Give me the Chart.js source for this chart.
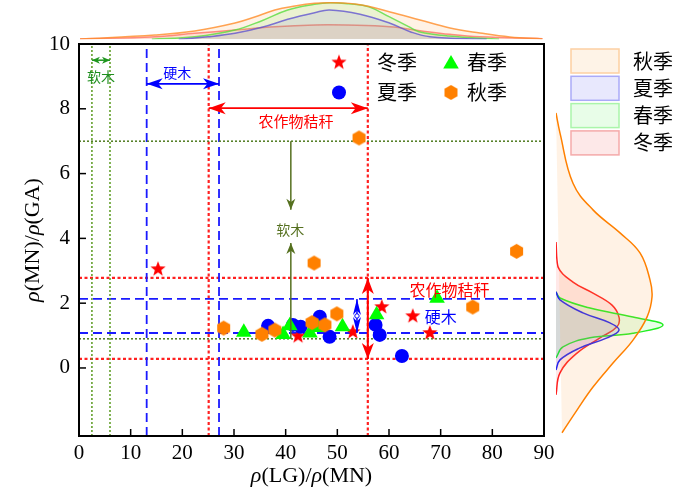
<!DOCTYPE html>
<html>
<head>
<meta charset="utf-8">
<script src="https://cdn.jsdelivr.net/npm/chart.js@4.4.0/dist/chart.umd.min.js"></script>
<style>
html, body { margin: 0; padding: 0; background: #fff; }
#wrap { position: relative; width: 700px; height: 490px; }
canvas { position: absolute; left: 0; top: 0; }
</style>
</head>
<body>
<div id="wrap">
  <canvas id="main" width="700" height="490"></canvas>
  <canvas id="top" width="700" height="490"></canvas>
  <canvas id="side" width="700" height="490"></canvas>
</div>
<script>
// ---- data ----
const seasons = ['冬季', '夏季', '春季', '秋季']

const winterX = [15.3, 42.4, 53.0, 58.6, 64.6, 67.9]
const winterY = [3.05, 0.98, 1.11, 1.88, 1.60, 1.08]
const summerX = [36.6, 41.4, 42.9, 46.6, 48.5, 57.4, 58.2, 62.5]
const summerY = [1.30, 1.33, 1.27, 1.58, 0.96, 1.33, 1.02, 0.37]
const springX = [31.9, 39.5, 40.8, 44.7, 46.2, 51.0, 57.6, 69.3]
const springY = [1.10, 1.03, 1.30, 1.08, 1.25, 1.27, 1.64, 2.15]
const autumnX = [28.0, 35.4, 37.9, 45.1, 45.5, 47.6, 49.9, 54.2, 76.2, 84.7]
const autumnY = [1.23, 1.04, 1.17, 1.40, 3.24, 1.33, 1.67, 7.10, 1.88, 3.60]

// ranges of the three source types
const softwoodX = [2.5, 6.0]
const hardwoodX = [13.1, 27.1]
const strawX = [25.1, 55.9]
const softwoodY = [0.9, 7.0]
const hardwoodY = [1.08, 2.13]
const strawY = [0.28, 2.78]

const xTicks = [0, 10, 20, 30, 40, 50, 60, 70, 80, 90]
const yTicks = [0, 2, 4, 6, 8, 10]

// density curves on top (x value, density a.u.)
const topAutumnX = [0.2, 14.7, 22.4, 30.2, 34.0, 37.9, 41.8, 45.6, 48.5, 54.4, 60.2, 66.0, 71.8, 77.6, 83.4, 89.7]
const topAutumnD = [0.3, 4.3, 8.3, 16.3, 22.3, 29.3, 33.3, 36.0, 36.6, 34.6, 27.3, 19.3, 11.3, 6.3, 2.3, 0.3]
const topSummerX = [19.3, 25.0, 30.2, 35.4, 40.4, 45.6, 48.5, 54.4, 60.2, 64.1, 67.9, 78.9]
const topSummerD = [0, 2.5, 6.0, 12.0, 20.0, 26.6, 29.3, 25.0, 16.0, 7.6, 2.6, 0]
const topSpringX = [14.1, 22.4, 30.2, 35.4, 40.4, 45.6, 48.5, 52.2, 56.1, 60.0, 63.8, 65.8, 71.6, 81.3]
const topSpringD = [0, 2.5, 9.3, 18.6, 29.3, 35.0, 36.6, 35.5, 32.6, 22.6, 12.6, 7.6, 3.3, 0]
const topWinterX = [0.2, 14.7, 22.4, 30.2, 37.9, 45.6, 52.0, 60.2, 66.0, 71.8, 77.6, 89.7]
const topWinterD = [0.3, 2.6, 6.0, 9.3, 12.6, 14.3, 14.2, 12.6, 8.6, 5.0, 2.6, 0.6]

// density curves on the right (y value, density a.u.)
const sideAutumnY = [7.87, 7.25, 5.7, 4.88, 4.17, 3.55, 2.72, 2.19, 1.57, 0.86, 0.15, -0.59, -1.3, -2.0]
const sideAutumnD = [0, 4, 17, 37, 64, 84, 94, 96, 91, 77, 57, 37, 21, 6]
const sideSummerY = [2.35, 2.10, 1.70, 1.39, 1.17, 0.93, 0.62, 0.25, -0.06]
const sideSummerD = [0, 4, 27, 54, 63, 51, 24, 4, 0]
const sideSpringY = [2.35, 2.16, 1.85, 1.57, 1.33, 1.07, 0.93, 0.65, 0.31]
const sideSpringD = [0, 4, 34, 77, 107, 77, 34, 7, 0]
const sideWinterY = [3.89, 3.12, 2.65, 2.31, 1.94, 1.57, 1.27, 0.93, 0.46, -0.15, -0.83]
const sideWinterD = [0, 2, 17, 37, 56, 63, 61, 44, 21, 4, 0]

// ---- helpers ----
const CJK = '"Noto Sans CJK SC"'
const SERIF = '"Liberation Serif"'
const Y_MIN = -2.1, Y_MAX = 10

let zip = (a, b) => a.map((v, i) => ({x: v, y: b[i]}))

let makeMarker = function(kind, color, r) {
	const c = document.createElement('canvas')
	const s = Math.ceil(r * 2 + 2)
	c.width = s; c.height = s
	const g = c.getContext('2d')
	g.fillStyle = color
	g.beginPath()
	const n = kind === 'star' ? 10 : 6
	for (let i = 0; i < n; i++) {
		const a = -Math.PI / 2 + i * 2 * Math.PI / n
		const rr = kind === 'star' ? (i % 2 ? r * 0.42 : r) : r
		g.lineTo(s / 2 + rr * Math.cos(a), s / 2 + rr * Math.sin(a))
	}
	g.closePath()
	g.fill()
	return c
}

const starImg = makeMarker('star', '#ff0000', 8)
const hexImg = makeMarker('hex', '#ff8000', 7.5)

let refLine = function(pts, color, dash, w) {
	return {
		data: pts, showLine: true, borderColor: color, borderDash: dash,
		borderWidth: w, pointRadius: 0, fill: false, order: 10
	}
}

let head = function(ctx, tx, ty, ang, len, w) {
	const c = Math.cos(ang), s = Math.sin(ang)
	const bx = tx - len * c, by = ty - len * s
	const nx = tx - len * 0.72 * c, ny = ty - len * 0.72 * s
	ctx.beginPath()
	ctx.moveTo(tx, ty)
	ctx.lineTo(bx - s * w / 2, by + c * w / 2)
	ctx.lineTo(nx, ny)
	ctx.lineTo(bx + s * w / 2, by - c * w / 2)
	ctx.closePath()
	ctx.fill()
}

let arrow = function(ctx, x1, y1, x2, y2, color, lw, len, w, both) {
	ctx.strokeStyle = color
	ctx.fillStyle = color
	ctx.lineWidth = lw
	ctx.setLineDash([])
	ctx.beginPath(); ctx.moveTo(x1, y1); ctx.lineTo(x2, y2); ctx.stroke()
	const ang = Math.atan2(y2 - y1, x2 - x1)
	head(ctx, x2, y2, ang, len, w)
	if (both) head(ctx, x1, y1, ang + Math.PI, len, w)
}

let label = function(ctx, text, x, y, color, size) {
	ctx.fillStyle = color
	ctx.font = size + 'px ' + CJK
	ctx.textAlign = 'center'
	ctx.textBaseline = 'middle'
	ctx.fillText(text, x, y)
}

let rich = function(ctx, parts, cx, cy, size) {
	let w = 0
	parts.forEach(p => { ctx.font = (p[1] ? 'italic ' : '') + size + 'px ' + SERIF; w += ctx.measureText(p[0]).width })
	let xx = cx - w / 2
	ctx.textAlign = 'left'
	ctx.textBaseline = 'middle'
	ctx.fillStyle = '#000'
	parts.forEach(p => {
		ctx.font = (p[1] ? 'italic ' : '') + size + 'px ' + SERIF
		ctx.fillText(p[0], xx, cy)
		xx += ctx.measureText(p[0]).width
	})
}

// ---- decorations of the main plot ----
const decor = {
	id: 'decor',
	afterDatasetsDraw(chart) {
		const ctx = chart.ctx, a = chart.chartArea
		const X = v => chart.scales.x.getPixelForValue(v)
		const Y = v => chart.scales.y.getPixelForValue(v)
		ctx.save()

		// range arrows
		arrow(ctx, X(softwoodX[0]), Y(9.5), X(softwoodX[1]), Y(9.5), '#1f961f', 1.5, 8, 7, true)
		arrow(ctx, X(hardwoodX[0]), Y(8.77), X(hardwoodX[1]), Y(8.77), '#0000ff', 1.8, 16, 11, true)
		arrow(ctx, X(strawX[0]), Y(8.02), X(strawX[1]), Y(8.02), '#ff0000', 1.8, 17, 12, true)
		arrow(ctx, X(41), Y(softwoodY[1]), X(41), Y(4.88), '#55701f', 1.5, 11, 9, false)
		arrow(ctx, X(41), Y(softwoodY[0]), X(41), Y(3.86), '#55701f', 1.5, 11, 9, false)
		arrow(ctx, X(strawX[1]), Y(strawY[1]), X(strawX[1]), Y(strawY[0]), '#ff0000', 2, 16, 12, true)
		arrow(ctx, X(53.8), Y(hardwoodY[1]), X(53.8), Y(hardwoodY[0]), '#0000ff', 1.5, 16, 8, true)
		ctx.fillStyle = '#fff'; ctx.strokeStyle = '#0000ff'; ctx.lineWidth = 1
		ctx.beginPath(); ctx.arc(X(53.8), Y((hardwoodY[0] + hardwoodY[1]) / 2), 2.2, 0, Math.PI * 2); ctx.fill(); ctx.stroke()

		label(ctx, '软木', X(4.25), Y(9.0), '#1f8f1f', 14)
		label(ctx, '硬木', X(19.0), Y(9.1), '#0000ff', 14)
		label(ctx, '农作物秸秆', X(42.0), Y(7.6), '#ff0000', 15)
		label(ctx, '软木', X(40.9), Y(4.26), '#55701f', 14)
		label(ctx, '农作物秸秆', X(71.7), Y(2.41), '#ff0000', 16)
		label(ctx, '硬木', X(70.0), Y(1.57), '#0000ff', 16)

		// frame and inward ticks
		ctx.strokeStyle = '#000'; ctx.lineWidth = 2
		ctx.strokeRect(a.left, a.top, a.right - a.left, a.bottom - a.top)
		ctx.lineWidth = 1.5
		xTicks.forEach(v => { ctx.beginPath(); ctx.moveTo(X(v), a.bottom); ctx.lineTo(X(v), a.bottom - 7); ctx.stroke() })
		yTicks.forEach(v => { ctx.beginPath(); ctx.moveTo(a.left, Y(v)); ctx.lineTo(a.left + 7, Y(v)); ctx.stroke() })

		// marker legend
		const lx1 = a.left + 260, lx2 = a.left + 372, ly1 = a.top + 18.5, ly2 = a.top + 48.5
		ctx.drawImage(starImg, lx1 - starImg.width / 2, ly1 - starImg.height / 2)
		ctx.fillStyle = '#0000ff'
		ctx.beginPath(); ctx.arc(lx1, ly2, 7, 0, Math.PI * 2); ctx.fill()
		ctx.fillStyle = '#00ff00'
		ctx.beginPath()
		for (let i = 0; i < 3; i++) {
			const t = i * 2 * Math.PI / 3
			ctx.lineTo(lx2 + Math.sin(t) * 9, ly1 + 1.5 - Math.cos(t) * 9)
		}
		ctx.closePath(); ctx.fill()
		ctx.drawImage(hexImg, lx2 - hexImg.width / 2, ly2 - hexImg.height / 2)
		ctx.fillStyle = '#000'
		ctx.font = '20px ' + CJK
		ctx.textAlign = 'left'; ctx.textBaseline = 'middle'
		ctx.fillText(seasons[0], lx1 + 38, ly1)
		ctx.fillText(seasons[1], lx1 + 38, ly2)
		ctx.fillText(seasons[2], lx2 + 16, ly1)
		ctx.fillText(seasons[3], lx2 + 16, ly2)

		// density legend on the right
		const boxes = [
			[seasons[3], '#fef3e7', '#fdd0a2'],
			[seasons[1], '#e8e8fd', '#aaaaf8'],
			[seasons[2], '#e8fde8', '#aaf5aa'],
			[seasons[0], '#fde8e8', '#f5aaaa']
		]
		boxes.forEach((b, i) => {
			const by = 49 + i * 27.3
			ctx.fillStyle = b[1]; ctx.strokeStyle = b[2]; ctx.lineWidth = 1.5
			ctx.fillRect(571, by, 48, 24); ctx.strokeRect(571, by, 48, 24)
			ctx.fillStyle = '#000'
			ctx.font = '20px ' + CJK
			ctx.textAlign = 'left'
			ctx.fillText(b[0], 633, by + 12)
		})

		// axis titles
		rich(ctx, [['ρ', true], ['(LG)/', false], ['ρ', true], ['(MN)', false]], (a.left + a.right) / 2, 476, 22)
		ctx.translate(33, (a.top + a.bottom) / 2)
		ctx.rotate(-Math.PI / 2)
		rich(ctx, [['ρ', true], ['(MN)/', false], ['ρ', true], ['(GA)', false]], 0, 0, 22)
		ctx.restore()
	}
}

// ---- main scatter ----
const mainDatasets = [
	{label: seasons[3], data: zip(autumnX, autumnY), pointStyle: hexImg, order: 0},
	{label: seasons[2], data: zip(springX, springY), pointStyle: 'triangle', pointRadius: 9, backgroundColor: '#00ff00', borderWidth: 0, order: 1},
	{label: seasons[1], data: zip(summerX, summerY), pointStyle: 'circle', pointRadius: 7, backgroundColor: '#0000ff', borderWidth: 0, order: 2},
	{label: seasons[0], data: zip(winterX, winterY), pointStyle: starImg, order: 3},
	refLine([{x: softwoodX[0], y: Y_MIN}, {x: softwoodX[0], y: Y_MAX}], '#5a9a1e', [2, 2], 1.5),
	refLine([{x: softwoodX[1], y: Y_MIN}, {x: softwoodX[1], y: Y_MAX}], '#5a9a1e', [2, 2], 1.5),
	refLine([{x: 0, y: softwoodY[0]}, {x: 90, y: softwoodY[0]}], '#4e7a1e', [2, 2], 1.5),
	refLine([{x: 0, y: softwoodY[1]}, {x: 90, y: softwoodY[1]}], '#4e7a1e', [2, 2], 1.5),
	refLine([{x: hardwoodX[0], y: Y_MIN}, {x: hardwoodX[0], y: Y_MAX}], '#1a1aff', [9, 5], 1.8),
	refLine([{x: hardwoodX[1], y: Y_MIN}, {x: hardwoodX[1], y: Y_MAX}], '#1a1aff', [9, 5], 1.8),
	refLine([{x: 0, y: hardwoodY[0]}, {x: 90, y: hardwoodY[0]}], '#1a1aff', [9, 5], 1.8),
	refLine([{x: 0, y: hardwoodY[1]}, {x: 90, y: hardwoodY[1]}], '#1a1aff', [9, 5], 1.8),
	refLine([{x: strawX[0], y: Y_MIN}, {x: strawX[0], y: Y_MAX}], '#ff2020', [3, 2.5], 2.2),
	refLine([{x: strawX[1], y: Y_MIN}, {x: strawX[1], y: Y_MAX}], '#ff2020', [3, 2.5], 2.2),
	refLine([{x: 0, y: strawY[0]}, {x: 90, y: strawY[0]}], '#ff2020', [3, 2.5], 2.2),
	refLine([{x: 0, y: strawY[1]}, {x: 90, y: strawY[1]}], '#ff2020', [3, 2.5], 2.2)
]

let mainChart = new Chart(document.getElementById('main'), {
	type: 'scatter',
	data: {datasets: mainDatasets},
	options: {
		responsive: false, animation: false, events: [],
		layout: {padding: {left: 0, top: 44, right: 156, bottom: 0}},
		plugins: {legend: {display: false}, tooltip: {enabled: false}},
		scales: {
			x: {
				type: 'linear', min: 0, max: 90,
				afterFit: s => { s.height = 54 },
				afterBuildTicks: s => { s.ticks = xTicks.map(v => ({value: v})) },
				grid: {display: false, drawTicks: false}, border: {display: false},
				ticks: {font: {family: 'Liberation Serif', size: 21}, color: '#000', padding: 5, maxRotation: 0, autoSkip: false}
			},
			y: {
				type: 'linear', min: Y_MIN, max: Y_MAX,
				afterFit: s => { s.width = 79 },
				afterBuildTicks: s => { s.ticks = yTicks.map(v => ({value: v})) },
				grid: {display: false, drawTicks: false}, border: {display: false},
				ticks: {font: {family: 'Liberation Serif', size: 21}, color: '#000', padding: 9, autoSkip: false}
			}
		}
	},
	plugins: [decor]
})

// ---- density panels ----
let curve = function(pts, line, fill) {
	return {data: pts, showLine: true, borderColor: line, backgroundColor: fill, borderWidth: 1.5, pointRadius: 0, tension: 0.4, fill: 'shape'}
}

let topChart = new Chart(document.getElementById('top'), {
	type: 'scatter',
	data: {datasets: [
		curve(zip(topAutumnX, topAutumnD), 'rgba(255,140,40,0.8)', 'rgba(255,165,80,0.15)'),
		curve(zip(topSummerX, topSummerD), 'rgba(60,60,230,0.75)', 'rgba(80,80,255,0.12)'),
		curve(zip(topSpringX, topSpringD), 'rgba(60,230,60,0.8)', 'rgba(80,255,80,0.13)'),
		curve(zip(topWinterX, topWinterD), 'rgba(255,60,60,0.6)', 'rgba(255,80,80,0.13)')
	]},
	options: {
		responsive: false, animation: false, events: [],
		layout: {padding: {left: 79, top: 0, right: 156, bottom: 450.7}},
		plugins: {legend: {display: false}, tooltip: {enabled: false}},
		scales: {x: {display: false, min: 0, max: 90}, y: {display: false, min: 0, max: 39.3}}
	}
})

let sideChart = new Chart(document.getElementById('side'), {
	type: 'scatter',
	data: {datasets: [
		curve(zip(sideAutumnD, sideAutumnY), '#ff8000', 'rgba(255,165,80,0.15)'),
		curve(zip(sideSummerD, sideSummerY), '#2424ee', 'rgba(80,80,255,0.12)'),
		curve(zip(sideSpringD, sideSpringY), '#22ee22', 'rgba(80,255,80,0.13)'),
		curve(zip(sideWinterD, sideWinterY), '#ff2020', 'rgba(255,80,80,0.13)')
	]},
	options: {
		responsive: false, animation: false, events: [],
		layout: {padding: {left: 556, top: 44, right: 0, bottom: 54}},
		plugins: {legend: {display: false}, tooltip: {enabled: false}},
		scales: {x: {display: false, min: 0, max: 144}, y: {display: false, min: Y_MIN, max: Y_MAX}}
	}
})
</script>
</body>
</html>
